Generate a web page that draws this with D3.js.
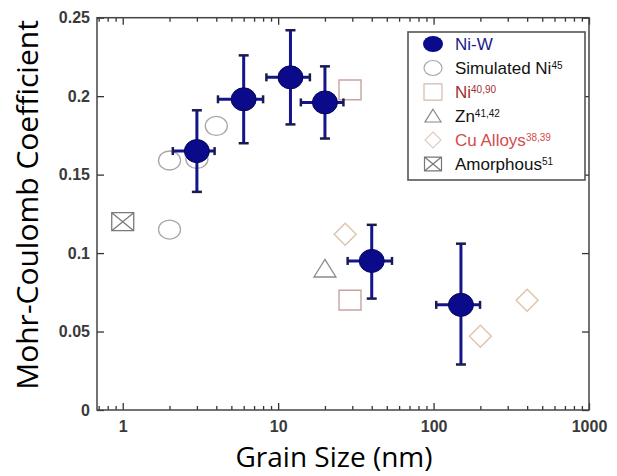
<!DOCTYPE html>
<html>
<head>
<meta charset="utf-8">
<script src="https://d3js.org/d3.v7.min.js"></script>
<style>
body { margin: 0; background: #fff; }
</style>
</head>
<body>
<script>
// Ni-W measurements with error bars (grain size nm, coefficient)
var niwGrain = [3, 6, 12, 20, 40, 150];
var niwCoef = [0.165, 0.198, 0.212, 0.196, 0.095, 0.067];
var niwGrainLo = [2.1, 4.1, 8.4, 14, 28, 104];
var niwGrainHi = [3.9, 8.0, 16, 26.3, 54, 199];
var niwCoefLo = [0.139, 0.170, 0.182, 0.173, 0.071, 0.029];
var niwCoefHi = [0.191, 0.226, 0.242, 0.219, 0.118, 0.106];

// literature points
var simGrain = [2, 2, 3, 4];
var simCoef = [0.115, 0.159, 0.160, 0.181];
var niGrain = [29, 29];
var niCoef = [0.204, 0.070];
var znGrain = [20];
var znCoef = [0.090];
var cuGrain = [27, 200, 400];
var cuCoef = [0.112, 0.047, 0.070];
var amGrain = [1];
var amCoef = [0.120];

var xTicks = [1, 10, 100, 1000];
var yTicks = [0, 0.05, 0.1, 0.15, 0.2, 0.25];
var legendNames = ["Ni-W", "Simulated Ni", "Ni", "Zn", "Cu Alloys", "Amorphous"];
var legendRefs = ["", "45", "40,90", "41,42", "38,39", "51"];

var margin = { top: 17.7, right: 28, bottom: 66, left: 97 },
    width = 617 - margin.left - margin.right,
    height = 476 - margin.top - margin.bottom;

var svg = d3.select("body").append("svg")
    .attr("width", 617)
    .attr("height", 476)
    .append("g")
    .attr("transform", "translate(" + margin.left + "," + margin.top + ")");

var x = d3.scaleLog().domain([0.683, 1000]).range([0, width]);
var y = d3.scaleLinear().domain([0, 0.25]).range([height, 0]);

var minorX = x.ticks().filter(function (d) { return xTicks.indexOf(d) < 0; });

// axes (ticks point inward)
svg.append("g")
    .attr("transform", "translate(0," + height + ")")
    .call(d3.axisBottom(x).tickValues(xTicks).tickSize(-7).tickPadding(11)
        .tickFormat(function (d) { return String(d); }));
svg.append("g")
    .attr("transform", "translate(0," + height + ")")
    .call(d3.axisBottom(x).tickValues(minorX).tickSize(-4).tickFormat(""));
svg.append("g")
    .call(d3.axisTop(x).tickValues(xTicks).tickSize(-7).tickFormat(""));
svg.append("g")
    .call(d3.axisTop(x).tickValues(minorX).tickSize(-4).tickFormat(""));
svg.append("g")
    .call(d3.axisLeft(y).tickValues(yTicks).tickSize(-7).tickPadding(7)
        .tickFormat(function (d) { return String(d); }));
svg.append("g")
    .attr("transform", "translate(" + width + ",0)")
    .call(d3.axisRight(y).tickValues(yTicks).tickSize(-7).tickFormat(""));

svg.selectAll(".domain").remove();
svg.selectAll(".tick line").attr("stroke", "#333").attr("stroke-width", 1.3);
svg.selectAll(".tick text")
    .style("font-family", "Liberation Sans, Arial, sans-serif")
    .style("font-size", "16px")
    .style("font-weight", "bold")
    .attr("fill", "#3a3a3a");

// frame
svg.append("rect")
    .attr("width", width)
    .attr("height", height)
    .attr("fill", "none")
    .attr("stroke", "#444")
    .attr("stroke-width", 1.5);

// axis titles
svg.append("text")
    .attr("x", 334 - margin.left)
    .attr("y", 467 - margin.top)
    .attr("text-anchor", "middle")
    .style("font-family", "Open Sans, sans-serif")
    .style("font-size", "28px")
    .text("Grain Size (nm)");

svg.append("text")
    .attr("transform", "translate(" + (38 - margin.left) + "," + (205 - margin.top) + ") rotate(-90)")
    .attr("text-anchor", "middle")
    .style("font-family", "Open Sans, sans-serif")
    .style("font-size", "30px")
    .text("Mohr-Coulomb Coefficient");

// marker shapes
function squarePath(s) { return "M" + (-s) + "," + (-s * 0.9) + "h" + (2 * s) + "v" + (1.8 * s) + "h" + (-2 * s) + "Z"; }
function diamondPath(s) { return "M0," + (-s) + "L" + s + ",0L0," + s + "L" + (-s) + ",0Z"; }
function trianglePath(s) { return "M0," + (-s * 0.85) + "L" + s + "," + (s * 0.75) + "L" + (-s) + "," + (s * 0.75) + "Z"; }
function crossBoxPath(s) {
    var h = s * 0.82;
    return "M" + (-s) + "," + (-h) + "h" + (2 * s) + "v" + (2 * h) + "h" + (-2 * s) + "Z" +
        "M" + (-s) + "," + (-h) + "L" + s + "," + h + "M" + s + "," + (-h) + "L" + (-s) + "," + h;
}

// simulated Ni circles
svg.selectAll(".sim").data(simGrain).enter().append("ellipse")
    .attr("cx", function (d) { return x(d); })
    .attr("cy", function (d, i) { return y(simCoef[i]); })
    .attr("rx", 11).attr("ry", 9.5)
    .attr("fill", "none").attr("stroke", "#a8a8a8").attr("stroke-width", 1.3);

svg.selectAll(".ni").data(niGrain).enter().append("path")
    .attr("transform", function (d, i) { return "translate(" + x(d) + "," + y(niCoef[i]) + ")"; })
    .attr("d", squarePath(11))
    .attr("fill", "none").attr("stroke", "#c9a2a2").attr("stroke-width", 1.4);

svg.selectAll(".zn").data(znGrain).enter().append("path")
    .attr("transform", function (d, i) { return "translate(" + x(d) + "," + y(znCoef[i]) + ")"; })
    .attr("d", trianglePath(11))
    .attr("fill", "none").attr("stroke", "#8a8a8a").attr("stroke-width", 1.3);

svg.selectAll(".cu").data(cuGrain).enter().append("path")
    .attr("transform", function (d, i) { return "translate(" + x(d) + "," + y(cuCoef[i]) + ")"; })
    .attr("d", diamondPath(11))
    .attr("fill", "none").attr("stroke", "#dcc4ac").attr("stroke-width", 1.4);

svg.selectAll(".am").data(amGrain).enter().append("path")
    .attr("transform", function (d, i) { return "translate(" + x(d) + "," + y(amCoef[i]) + ")"; })
    .attr("d", crossBoxPath(11))
    .attr("fill", "none").attr("stroke", "#7a7a7a").attr("stroke-width", 1.3);

// Ni-W error bars
var niw = svg.selectAll(".niw").data(niwGrain).enter().append("g");
niw.append("line")
    .attr("x1", function (d) { return x(d); }).attr("x2", function (d) { return x(d); })
    .attr("y1", function (d, i) { return y(niwCoefLo[i]); })
    .attr("y2", function (d, i) { return y(niwCoefHi[i]); })
    .attr("stroke", "#14148c").attr("stroke-width", 3);
niw.append("line")
    .attr("x1", function (d, i) { return x(niwGrainLo[i]); })
    .attr("x2", function (d, i) { return x(niwGrainHi[i]); })
    .attr("y1", function (d, i) { return y(niwCoef[i]); })
    .attr("y2", function (d, i) { return y(niwCoef[i]); })
    .attr("stroke", "#14148c").attr("stroke-width", 3);
[niwCoefLo, niwCoefHi].forEach(function (arr) {
    niw.append("line")
        .attr("x1", function (d) { return x(d) - 5; }).attr("x2", function (d) { return x(d) + 5; })
        .attr("y1", function (d, i) { return y(arr[i]); })
        .attr("y2", function (d, i) { return y(arr[i]); })
        .attr("stroke", "#1a1a50").attr("stroke-width", 2.5);
});
[niwGrainLo, niwGrainHi].forEach(function (arr) {
    niw.append("line")
        .attr("x1", function (d, i) { return x(arr[i]); })
        .attr("x2", function (d, i) { return x(arr[i]); })
        .attr("y1", function (d, i) { return y(niwCoef[i]) - 4; })
        .attr("y2", function (d, i) { return y(niwCoef[i]) + 4; })
        .attr("stroke", "#1a1a50").attr("stroke-width", 2.5);
});
niw.append("ellipse")
    .attr("cx", function (d) { return x(d); })
    .attr("cy", function (d, i) { return y(niwCoef[i]); })
    .attr("rx", 12.5).attr("ry", 11.5)
    .attr("fill", "#0a0a8a").attr("stroke", "#06065a").attr("stroke-width", 1);

// legend
var lg = svg.append("g").attr("transform", "translate(" + (408 - margin.left) + "," + (32 - margin.top) + ")");
lg.append("rect")
    .attr("width", 177).attr("height", 148)
    .attr("fill", "#fff").attr("stroke", "#555").attr("stroke-width", 1.6);

var legendColors = ["#1a1a8c", "#111", "#a03232", "#111", "#d24c4c", "#111"];
legendNames.forEach(function (name, i) {
    var row = lg.append("g").attr("transform", "translate(25," + (12 + i * 24) + ")");
    if (i === 0) row.append("ellipse").attr("rx", 10).attr("ry", 8).attr("fill", "#0a0a8a");
    if (i === 1) row.append("ellipse").attr("rx", 9).attr("ry", 7.5).attr("fill", "none").attr("stroke", "#aaa").attr("stroke-width", 1.2);
    if (i === 2) row.append("path").attr("d", squarePath(9)).attr("fill", "none").attr("stroke", "#d6b8b0").attr("stroke-width", 1.2);
    if (i === 3) row.append("path").attr("d", trianglePath(8)).attr("fill", "none").attr("stroke", "#888").attr("stroke-width", 1.2);
    if (i === 4) row.append("path").attr("d", diamondPath(8)).attr("fill", "none").attr("stroke", "#e0cbbf").attr("stroke-width", 1.2);
    if (i === 5) row.append("path").attr("d", crossBoxPath(8.5)).attr("fill", "none").attr("stroke", "#777").attr("stroke-width", 1.2);

    var t = row.append("text")
        .attr("x", 22)
        .attr("dy", "0.36em")
        .style("font-family", "Liberation Sans, Arial, sans-serif")
        .style("font-size", "17px")
        .attr("fill", legendColors[i])
        .text(name);
    if (legendRefs[i]) {
        t.append("tspan")
            .attr("dy", "-0.55em")
            .style("font-size", "10px")
            .text(legendRefs[i]);
    }
});
</script>
</body>
</html>
